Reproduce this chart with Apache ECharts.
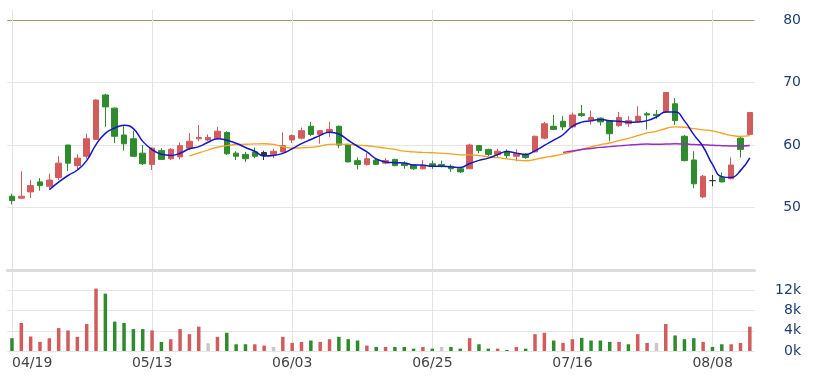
<!DOCTYPE html>
<html><head><meta charset="utf-8">
<script src="https://cdn.jsdelivr.net/npm/echarts@6/dist/echarts.min.js"></script>
<style>html,body{margin:0;padding:0;background:#fff}#c{width:815px;height:383px}</style>
</head><body><div id="c"></div>
<script>
const dates = ['04/19','04/22','04/23','04/24','04/25','04/26','04/29','04/30','05/02','05/03',
'05/06','05/07','05/08','05/09','05/10','05/13','05/14','05/15','05/16','05/17',
'05/20','05/21','05/22','05/23','05/24','05/27','05/28','05/29','05/30','05/31',
'06/03','06/04','06/05','06/06','06/10','06/11','06/12','06/13','06/14','06/17',
'06/18','06/19','06/20','06/21','06/24','06/25','06/26','06/27','06/28','07/01',
'07/02','07/03','07/04','07/05','07/08','07/09','07/10','07/11','07/12','07/15',
'07/16','07/17','07/18','07/19','07/22','07/23','07/24','07/25','07/26','07/29',
'07/30','07/31','08/01','08/02','08/07','08/08','08/09','08/12','08/13','08/14'];

// [open, close, low, high]
const candles = [
[51.8,51.1,50.5,52.2],[51.5,51.8,51.4,55.8],[52.5,53.5,51.5,54.4],[54.1,53.5,52.7,54.7],[53.4,54.4,53.1,55.4],
[54.8,57.1,54.4,58.2],[60.0,57.1,55.8,60.0],[56.7,57.9,56.1,58.5],[58.2,61.0,57.8,61.8],[60.9,67.2,60.8,67.3],
[68.0,66.1,62.9,68.2],[65.9,61.4,60.3,66.0],[61.6,60.2,59.1,63.0],[61.0,58.2,58.1,62.3],[58.7,57.0,56.8,60.0],
[56.9,59.5,56.0,59.6],[59.1,57.7,57.6,59.5],[57.8,59.3,57.6,59.5],[58.1,59.9,57.7,60.4],[59.5,60.6,59.2,61.9],
[61.0,61.2,60.6,63.2],[60.8,61.2,60.6,61.7],[61.1,62.2,60.9,62.9],[62.0,58.6,58.4,62.2],[58.7,58.2,57.6,59.0],
[58.5,57.8,57.3,58.9],[58.9,58.2,57.9,59.6],[58.8,58.3,57.6,59.1],[58.5,59.0,57.9,59.4],[58.9,59.9,58.8,62.0],
[60.8,61.5,60.3,61.7],[61.1,62.3,60.9,62.8],[63.0,61.7,61.4,63.7],[61.7,62.3,60.2,62.4],[62.0,62.5,61.3,63.7],
[63.0,60.0,59.5,63.1],[60.1,57.3,57.2,60.2],[57.5,56.9,56.1,58.0],[56.9,57.8,56.7,58.7],[57.6,56.9,56.8,57.8],
[57.1,57.5,56.9,57.9],[57.7,56.7,56.6,57.8],[57.0,56.7,56.2,57.4],[56.8,56.2,56.0,56.9],[56.2,56.8,56.1,57.6],
[57.0,56.6,56.2,57.5],[56.9,56.7,56.4,57.5],[56.6,56.2,55.7,56.9],[56.2,55.7,55.5,56.3],[56.2,60.0,56.2,60.2],
[59.9,59.1,58.7,60.0],[59.3,58.5,58.2,59.4],[58.5,59.0,58.0,59.4],[59.0,58.3,57.9,59.3],[58.2,58.6,57.4,59.3],
[58.5,58.0,57.8,58.7],[58.9,61.4,58.8,61.5],[61.1,63.4,60.9,63.7],[63.0,62.5,62.4,64.8],[63.8,62.9,62.4,64.6],
[62.9,64.8,62.7,65.2],[65.0,64.7,64.5,66.4],[63.9,64.4,63.3,65.5],[64.3,63.7,63.1,64.4],[63.9,61.8,60.6,64.0],
[63.1,64.4,62.9,65.3],[63.4,63.9,62.9,64.6],[63.8,64.6,63.6,66.2],[65.0,64.8,62.5,65.3],[64.9,64.7,64.2,65.6],
[65.3,68.4,65.2,68.5],[66.6,63.9,63.2,67.5],[61.4,57.5,57.4,61.6],[57.6,53.8,53.1,59.0],[51.7,55.0,51.5,55.2],
[54.3,54.3,53.4,55.2],[54.8,54.1,54.0,55.6],[54.6,56.8,54.5,58.0],[61.1,59.3,58.0,61.3],[61.7,65.2,61.6,65.3]];
const darkCandles = [27, 75];

const volumes = [2530,5530,2870,1800,2530,4530,4070,2800,5330,12330,
11330,5800,5530,4330,4330,4070,1800,2330,4330,3330,
4800,1530,2800,3600,1330,1330,1330,1070,800,2800,
1600,1800,2070,1800,2330,2800,2330,2070,1070,800,
800,800,800,470,800,470,800,800,470,2530,
1330,470,470,200,800,470,3330,3600,2070,1600,
2330,2600,2070,2070,1800,1800,1330,3330,1600,1600,
5330,3070,2330,2530,1800,800,1330,1330,1600,4800];
// u = up (red), d = down (green), n = unchanged (gray)
const volumeDir = ['d','u','u','u','u','u','u','u','u','u',
'd','d','d','d','d','u','d','u','u','u',
'u','n','u','d','d','d','u','u','n','u',
'u','u','d','u','u','d','d','d','u','d',
'u','d','d','d','u','d','n','d','d','u',
'd','d','u','d','u','d','u','u','d','u',
'u','d','d','d','d','u','d','u','u','n',
'u','d','d','d','u','d','d','u','u','u'];

const ma5Start = 4;
const ma5 = [52.86,54.06,55.12,56.0,57.5,60.06,61.86,62.72,63.18,62.62,60.58,59.26,58.52,58.34,58.68,59.4,
59.74,60.44,61.02,60.76,60.28,59.6,59.0,58.24,58.32,58.66,59.4,60.22,60.88,61.54,62.06,61.76,60.76,59.8,58.9,
57.78,57.28,57.16,57.12,56.8,56.78,56.6,56.6,56.5,56.4,57.04,57.54,57.9,58.46,58.98,58.7,58.48,59.06,59.94,
60.78,61.64,63.0,63.66,63.86,64.1,63.88,63.8,63.64,63.68,63.9,64.48,65.28,65.28,63.86,61.66,59.72,56.9,54.94,
54.8,55.9,57.94];
const ma20Start = 19;
const ma20 = [58.23,58.73,59.2,59.64,59.89,60.08,60.12,60.17,60.2,60.1,59.73,59.5,59.55,59.62,59.83,60.1,60.13,
60.1,59.99,59.88,59.7,59.51,59.29,59.01,58.89,58.82,58.76,58.69,58.58,58.41,58.42,58.3,58.1,57.97,57.77,57.58,
57.48,57.68,58.0,58.24,58.54,58.9,59.3,59.69,60.07,60.32,60.7,61.07,61.49,61.94,62.18,62.64,62.91,62.84,62.61,
62.43,62.25,61.88,61.55,61.39,61.5];
const ma60Start = 59;
const ma60 = [58.82,59.05,59.27,59.45,59.62,59.74,59.86,59.98,60.09,60.15,60.11,60.15,60.19,60.15,60.07,60.04,
59.95,59.89,59.85,59.84,59.92];

const UP = '#d25c5c', DOWN = '#2e8b2e', FLAT = '#c8c8c8', DARK = '#333333';
const pad = (start, arr) => new Array(start).fill(null).concat(arr);

const candleData = candles.map((c, i) => darkCandles.includes(i)
  ? {value: c, itemStyle: {color: DARK, color0: DARK, borderColor: DARK, borderColor0: DARK, borderColorDoji: DARK}}
  : c);
const volData = volumes.map((v, i) => ({value: v, itemStyle: {color: volumeDir[i] === 'u' ? UP : (volumeDir[i] === 'd' ? DOWN : FLAT)}}));

const labelFont = {fontFamily: 'DejaVu Sans', fontSize: 14};
const chart = echarts.init(document.getElementById('c'), null, {renderer: 'canvas'});
chart.setOption({
  animation: false,
  backgroundColor: '#fff',
  grid: [
    {left: 7.3, right: 60.5, top: 20, height: 250},
    {left: 7.3, right: 60.5, top: 270, height: 81},
    {left: 12, right: 65, top: 10, height: 341}
  ],
  xAxis: [
    {type: 'category', gridIndex: 0, data: dates, boundaryGap: true,
     axisLine: {show: true, lineStyle: {color: '#dcdcdc', width: 3}}, axisTick: {show: false}, axisLabel: {show: false}, splitLine: {show: false}},
    {type: 'category', gridIndex: 1, data: dates, boundaryGap: true,
     axisLine: {show: false}, axisTick: {show: false}, axisLabel: {show: false}, splitLine: {show: false}},
    {type: 'category', gridIndex: 2, data: dates, boundaryGap: false,
     axisLine: {show: false}, axisTick: {show: false},
     axisLabel: Object.assign({interval: 14, alignMinLabel: 'left', color: '#444', margin: 5}, labelFont),
     splitLine: {show: true, interval: 14, lineStyle: {color: '#e3e3e3', width: 1}}}
  ],
  yAxis: [
    {type: 'value', gridIndex: 0, position: 'right', min: 40, max: 80, interval: 10,
     axisLine: {show: false}, axisTick: {show: false},
     axisLabel: Object.assign({color: '#1f3f73', align: 'right', margin: 46.5, formatter: v => v === 40 ? '' : String(v)}, labelFont),
     splitLine: {show: true, lineStyle: {color: ['#dcdcdc', '#e6e6e6', '#e6e6e6', '#e6e6e6', '#a3956e'], width: 1}}},
    {type: 'value', gridIndex: 1, position: 'right', min: 0, max: 16000, interval: 4000,
     axisLine: {show: false}, axisTick: {show: false},
     axisLabel: Object.assign({color: '#1f3f73', align: 'right', margin: 46.5, formatter: v => v === 16000 ? '' : (v / 1000) + 'k'}, labelFont),
     splitLine: {show: true, lineStyle: {color: '#e6e6e6', width: 1}}},
    {type: 'value', gridIndex: 2, show: false, splitLine: {show: false}}
  ],
  series: [
    {type: 'candlestick', xAxisIndex: 0, yAxisIndex: 0, data: candleData, barWidth: 6,
     itemStyle: {color: UP, color0: DOWN, borderColor: UP, borderColor0: DOWN, borderColorDoji: DARK, borderWidth: 1}},
    {type: 'line', xAxisIndex: 0, yAxisIndex: 0, data: pad(ma20Start, ma20), showSymbol: false, smooth: true,
     lineStyle: {color: '#f2a31f', width: 1.3}},
    {type: 'line', xAxisIndex: 0, yAxisIndex: 0, data: pad(ma60Start, ma60), showSymbol: false, smooth: true,
     lineStyle: {color: '#9b2bc4', width: 1.5}},
    {type: 'line', xAxisIndex: 0, yAxisIndex: 0, data: pad(ma5Start, ma5), showSymbol: false, smooth: true,
     lineStyle: {color: '#1515c8', width: 1.5}},
    {type: 'bar', xAxisIndex: 1, yAxisIndex: 1, data: volData, barWidth: 3.5}
  ]
});
</script>
</body></html>
